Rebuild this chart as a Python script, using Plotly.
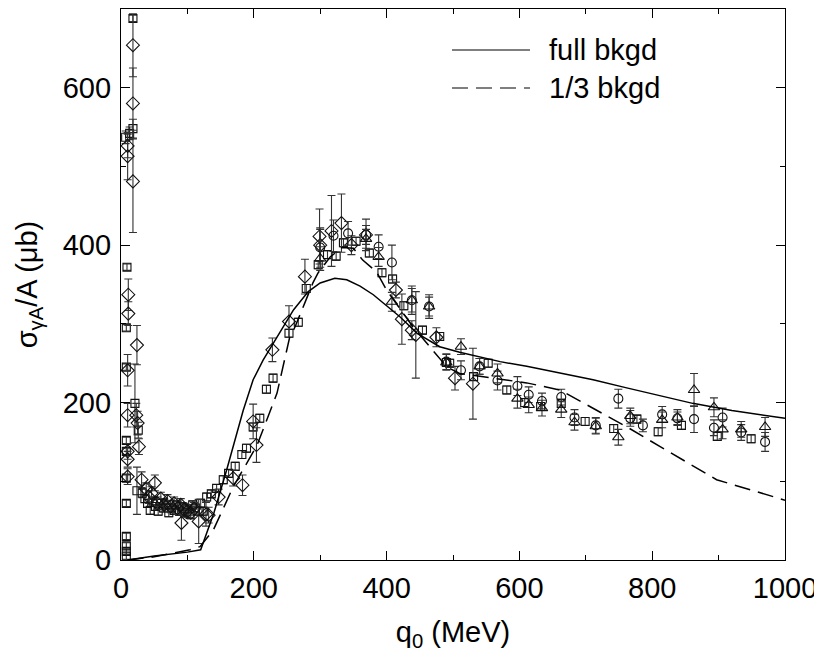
import plotly.graph_objects as go

# ---- data ----
sq_x = [18, 18, 13, 7, 9, 8, 8, 21, 8, 8, 26, 8, 24, 8, 8, 8, 8, 8,
        32, 36, 40, 44, 48, 52, 56, 60, 64, 68, 72, 76, 80, 84, 88, 92, 96, 100, 104, 108, 112, 116, 120, 124,
        129, 136, 144, 154, 162, 172, 182, 189, 199, 209, 219, 229, 253, 267, 279, 297, 311, 324, 335, 354,
        374, 393, 409, 426, 454, 480, 490, 495, 531, 553, 581, 608, 632, 663, 699, 742, 777, 809, 844, 898, 949]
sq_y = [688, 548, 542, 537, 372, 295, 245, 199, 152, 138, 165, 104, 88, 72, 30, 18, 11, 5,
        85, 78, 72, 63, 75, 68, 62, 72, 66, 70, 60, 66, 63, 70, 62, 68, 60, 65, 58, 70, 66, 62, 72, 62,
        80, 84, 91, 102, 110, 119, 134, 142, 169, 180, 217, 231, 288, 302, 345, 375, 388, 386, 403, 405,
        390, 365, 357, 323, 292, 284, 251, 250, 233, 250, 216, 200, 195, 199, 176, 167, 179, 163, 171, 157, 154]
sq_e = [4, 12, 8, 8, 4, 4, 4, 50, 4, 4, 10, 4, 30, 4, 4, 4, 4, 4,
        6, 5, 5, 5, 5, 5, 5, 5, 5, 5, 5, 5, 5, 5, 5, 5, 5, 5, 5, 5, 5, 5, 5, 5,
        5, 5, 5, 5, 5, 5, 5, 5, 5, 5, 5, 5, 5, 5, 5, 5, 5, 5, 5, 5,
        5, 5, 5, 5, 5, 5, 5, 5, 5, 5, 5, 5, 5, 5, 5, 5, 5, 5, 5, 5, 5]

di_x = [18, 18, 10, 10, 18, 11, 11, 24, 10, 10, 23, 25, 27, 10, 10, 10, 31,
        38, 42, 46, 51, 55, 60, 65, 70, 75, 80, 85, 90, 95, 100, 105, 110, 91, 117, 128, 132, 147, 169, 183,
        199, 204, 228, 253, 277, 299, 300, 317, 332, 347, 369, 414, 423, 438, 444, 475, 503, 530]
di_y = [654, 580, 526, 513, 481, 337, 313, 273, 241, 184, 184, 174, 144, 138, 128, 106, 102,
        90, 80, 85, 98, 72, 78, 70, 75, 68, 72, 66, 70, 64, 62, 60, 65, 47, 49, 58, 57, 80, 104, 95,
        176, 146, 267, 303, 360, 411, 400, 418, 428, 400, 413, 343, 306, 292, 286, 283, 231, 224]
di_e = [40, 45, 15, 30, 65, 20, 15, 25, 20, 15, 15, 15, 10, 10, 10, 10, 10,
        8, 8, 8, 10, 8, 8, 8, 8, 8, 8, 8, 8, 8, 8, 8, 8, 22, 28, 15, 10, 10, 10, 13,
        22, 22, 15, 20, 22, 35, 20, 45, 37, 12, 20, 10, 32, 12, 55, 12, 15, 45]

ci_x = [300, 320, 342, 369, 388, 408, 438, 464, 490, 512, 540, 567, 597, 614, 634, 663, 683, 715,
        749, 767, 786, 815, 838, 863, 893, 906, 934, 970]
ci_y = [397, 412, 415, 413, 398, 378, 330, 322, 252, 241, 246, 228, 221, 210, 202, 207, 181, 171,
        205, 180, 171, 185, 180, 179, 168, 181, 162, 150]
ci_e = [25, 20, 15, 12, 15, 22, 18, 15, 10, 12, 10, 12, 12, 10, 10, 10, 10, 10,
        12, 10, 8, 10, 8, 17, 10, 12, 10, 12]

tr_x = [300, 369, 388, 408, 438, 464, 490, 512, 540, 567, 597, 614, 634, 663, 683, 715, 749, 767,
        815, 838, 863, 893, 906, 934, 970]
tr_y = [383, 408, 385, 328, 330, 322, 251, 271, 246, 237, 205, 197, 193, 191, 175, 170, 156, 183,
        178, 181, 216, 194, 166, 166, 169]
tr_e = [15, 12, 12, 12, 15, 12, 10, 10, 10, 12, 12, 10, 10, 10, 10, 10, 10, 10,
        10, 10, 21, 12, 12, 10, 12]

full_x = [10, 50, 100, 120, 140, 159, 184, 199, 214, 240, 260, 282, 300, 322, 340, 360, 380, 400,
          420, 446, 480, 510, 571, 611, 660, 711, 760, 800, 861, 920, 1000]
full_y = [0, 5, 10, 13, 60, 114, 190, 229, 254, 290, 318, 341, 352, 358, 356, 348, 337, 323,
          309, 288, 271, 264, 252, 246, 238, 229, 219, 211, 199, 190, 180]

third_x = [10, 50, 104, 119, 139, 169, 205, 235, 254, 262, 277, 289, 297, 315, 333, 350, 364, 385,
           400, 440, 460, 491, 510, 576, 611, 661, 711, 762, 812, 897, 1000]
third_y = [0, 4, 13, 17, 38, 93, 146, 212, 283, 296, 327, 352, 365, 385, 397, 396, 381, 366,
           343, 296, 276, 245, 237, 229, 225, 216, 193, 169, 144, 102, 76]

legend_labels = ["full bkgd", "1/3 bkgd"]

FONT = "Liberation Sans, Arial, sans-serif"
FS = 29

fig = go.Figure()

def add_pts(x, y, e, symbol, size):
    fig.add_trace(go.Scatter(
        x=x, y=y, mode="markers", showlegend=False,
        marker=dict(symbol=symbol, size=size, color="#111",
                    line=dict(color="#111", width=1.1)),
        error_y=dict(type="data", array=e, visible=True, color="#333",
                     thickness=1.1, width=4),
    ))

add_pts(sq_x, sq_y, sq_e, "square-open", 8)
add_pts(di_x, di_y, di_e, "diamond-open", 10)
add_pts(ci_x, ci_y, ci_e, "circle-open", 9)
add_pts(tr_x, tr_y, tr_e, "triangle-up-open", 10)

fig.add_trace(go.Scatter(x=full_x, y=full_y, mode="lines", name=legend_labels[0],
                         showlegend=False, line=dict(color="black", width=1.5)))
fig.add_trace(go.Scatter(x=third_x, y=third_y, mode="lines", name=legend_labels[1],
                         showlegend=False, line=dict(color="black", width=1.5, dash="16px,8px")))

# manual legend
leg_y = [0.9256, 0.8566]
dashes = ["solid", "16px,8px"]
for lab, ly, d in zip(legend_labels, leg_y, dashes):
    fig.add_shape(type="line", xref="paper", yref="paper", x0=0.4985, x1=0.616, y0=ly, y1=ly,
                  line=dict(color="#555", width=1.5, dash=d))
    fig.add_annotation(xref="paper", yref="paper", x=0.6416, y=ly, text=lab, showarrow=False,
                       xanchor="left", yanchor="middle", font=dict(family=FONT, size=FS, color="black"))

axis_common = dict(showline=True, linecolor="black", linewidth=1.2, mirror="allticks",
                   ticks="inside", ticklen=9, tickcolor="black", tickwidth=1.2,
                   showgrid=False, zeroline=False, automargin=False,
                   tickfont=dict(family=FONT, size=FS, color="black"))

fig.update_xaxes(range=[0, 1000], dtick=200, tick0=0, ticklabelstandoff=2,
                 minor=dict(dtick=100, ticks="inside", ticklen=5, tickcolor="black", showgrid=False),
                 title=dict(text="q<sub>0</sub> (MeV)", font=dict(family=FONT, size=FS, color="black"),
                            standoff=18),
                 **axis_common)
fig.update_yaxes(range=[0, 700], dtick=200, tick0=0, ticklabelstandoff=3,
                 minor=dict(dtick=100, ticks="inside", ticklen=5, tickcolor="black", showgrid=False),
                 title=dict(text="σ<sub>γA</sub>/A (μb)", font=dict(family=FONT, size=FS, color="black"),
                            standoff=16),
                 **axis_common)

# page body adds an 8px offset; compensate so the plot area sits at x 121-785, y 9-560
fig.update_layout(width=814, height=647, autosize=False,
                  margin=dict(l=113, r=37, t=1, b=95),
                  paper_bgcolor="white", plot_bgcolor="white",
                  font=dict(family=FONT, size=FS, color="black"))

fig.write_html("out.html")
